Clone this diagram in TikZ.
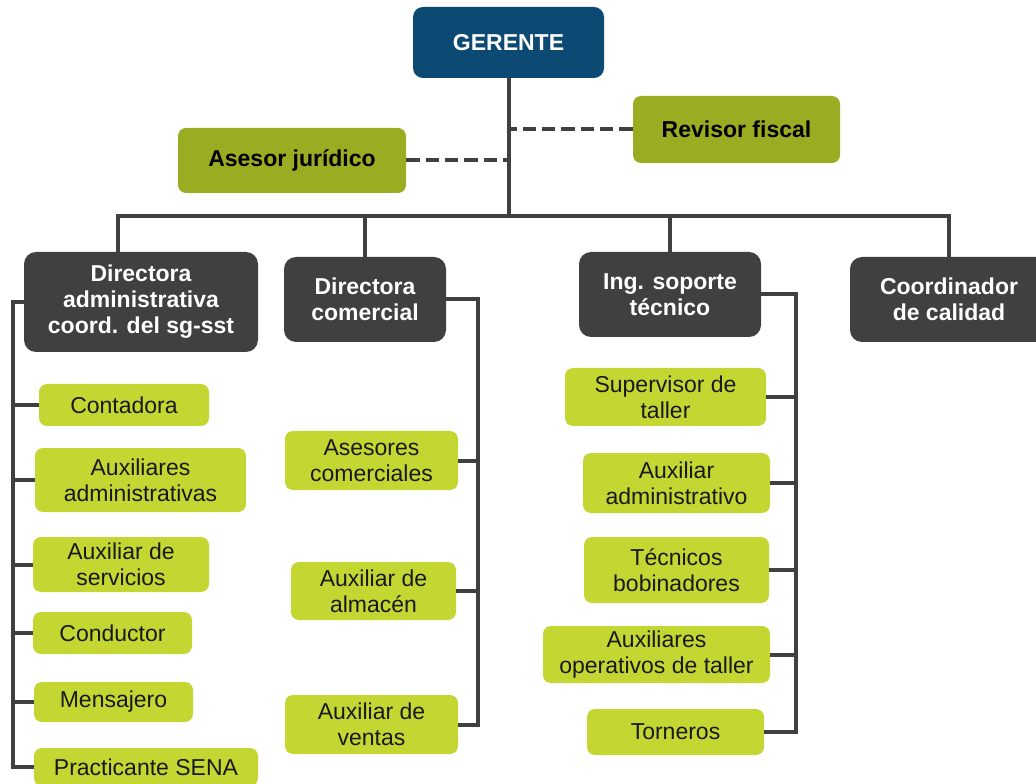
\documentclass[tikz,border=0pt]{standalone}
\usepackage{fontspec}
\setmainfont{Liberation Sans}
\definecolor{azulger}{HTML}{0D4A73}
\definecolor{oliva}{HTML}{9AAC22}
\definecolor{grisosc}{HTML}{404040}
\definecolor{verdecl}{HTML}{C4D631}
\begin{document}
\begin{tikzpicture}[x=0.75pt,y=-0.75pt,
  sz/.style 2 args={minimum width=#1*0.75pt,minimum height=#2*0.75pt},
  caja/.style={inner sep=0pt,align=center,font=\fontsize{17.25}{19.5}\selectfont},
  gerbox/.style={caja,fill=azulger,text=white,rounded corners=7.5pt,font=\fontsize{17.25}{19.5}\selectfont\bfseries},
  asesbox/.style={caja,fill=oliva,rounded corners=6pt,font=\fontsize{17.25}{19.5}\selectfont\bfseries},
  dirbox/.style={caja,fill=grisosc,text=white,rounded corners=9pt,font=\fontsize{17.25}{19.5}\selectfont\bfseries},
  cargobox/.style={caja,fill=verdecl,text=black!90,rounded corners=6pt},
  linea/.style={draw=grisosc,line width=3pt},
  enlace/.style={linea,dash pattern=on 10pt off 4.5pt}]
\clip (0,0) rectangle (1036,784);
% cabeza
\node[gerbox,sz={191}{71}] (ger) at (508.5,42.5) {GERENTE};
\node[asesbox,sz={228}{65}] (ases) at (292,160.5) {Asesor jurídico};
\node[asesbox,sz={207}{67}] (rev) at (736.5,129.5) {Revisor fiscal};
% directores
\node[dirbox,sz={234}{100}] (dadm) at (141,302) {Directora\\administrativa\\coord. del sg-sst};
\node[dirbox,sz={162}{85}] (dcom) at (365,299.5) {Directora\\comercial};
\node[dirbox,sz={182}{85}] (ing) at (670,294.5) {Ing. soporte\\técnico};
\node[dirbox,sz={198}{85}] (coord) at (949,299.5) {Coordinador\\de calidad};
% cargos
\node[cargobox,sz={170}{42}] (cont) at (124,405) {Contadora};
\node[cargobox,sz={211}{64}] (auxa) at (140.5,480) {Auxiliares\\administrativas};
\node[cargobox,sz={176}{55}] (auxs) at (121,564.5) {Auxiliar de\\servicios};
\node[cargobox,sz={159}{42}] (cond) at (112.5,633) {Conductor};
\node[cargobox,sz={159}{40}] (mens) at (113.5,702) {Mensajero};
\node[cargobox,sz={224}{38}] (prac) at (146,767) {Practicante SENA};
\node[cargobox,sz={173}{59}] (asco) at (371.5,460.5) {Asesores\\comerciales};
\node[cargobox,sz={165}{58}] (alma) at (373.5,591) {Auxiliar de\\almacén};
\node[cargobox,sz={173}{59}] (vent) at (371.5,724.5) {Auxiliar de\\ventas};
\node[cargobox,sz={201}{58}] (sup) at (665.5,397) {Supervisor de\\taller};
\node[cargobox,sz={187}{60}] (auxd) at (676.5,483) {Auxiliar\\administrativo};
\node[cargobox,sz={185}{66}] (tecb) at (676.5,570) {Técnicos\\bobinadores};
\node[cargobox,sz={227}{57}] (auxo) at (656.5,654.5) {Auxiliares\\operativos de taller};
\node[cargobox,sz={177}{46}] (torn) at (675.5,732) {Torneros};
% lineas
\coordinate (busL) at (118,216);
\coordinate (busR) at (949,216);
\coordinate (lineA) at (13,302);
\coordinate (lineB) at (478,298);
\coordinate (lineC) at (796,293);
\draw[linea] (ger.south) -- (ger.south |- busL);
\draw[enlace] (ases.east) -- (ases.east -| ger.south);
\draw[enlace] (rev.west) -- (rev.west -| ger.south);
\draw[linea] (busL |- dadm.north) -- (busL) -- (busR) -- (coord.north);
\draw[linea] (dcom.north) -- (dcom.north |- busL);
\draw[linea] (ing.north) -- (ing.north |- busL);
\draw[linea] (dadm.west) -- (dadm.west -| lineA) |- (prac.west);
\draw[linea] (cont.west) -- (cont.west -| lineA);
\draw[linea] (auxa.west) -- (auxa.west -| lineA);
\draw[linea] (auxs.west) -- (auxs.west -| lineA);
\draw[linea] (cond.west) -- (cond.west -| lineA);
\draw[linea] (mens.west) -- (mens.west -| lineA);
\draw[linea] (dcom.east) -- (dcom.east -| lineB) |- (vent.east);
\draw[linea] (asco.east) -- (asco.east -| lineB);
\draw[linea] (alma.east) -- (alma.east -| lineB);
\draw[linea] (ing.east) -- (ing.east -| lineC) |- (torn.east);
\draw[linea] (sup.east) -- (sup.east -| lineC);
\draw[linea] (auxd.east) -- (auxd.east -| lineC);
\draw[linea] (tecb.east) -- (tecb.east -| lineC);
\draw[linea] (auxo.east) -- (auxo.east -| lineC);
\end{tikzpicture}
\end{document}
